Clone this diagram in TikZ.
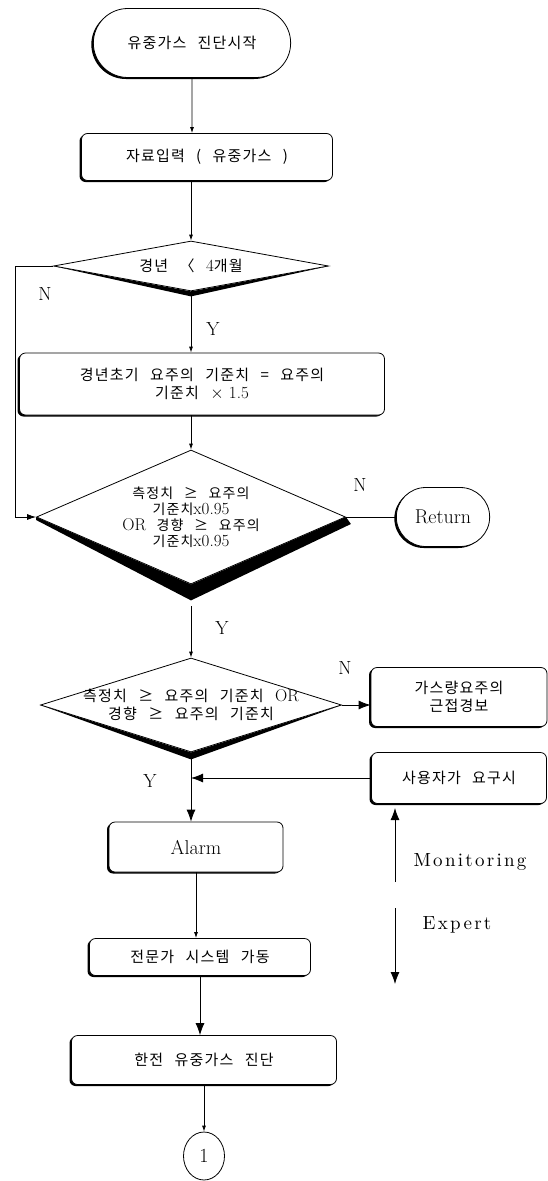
\documentclass[tikz,border=0pt]{standalone}
\usepackage{fontspec}
\newfontfamily\kr{Noto Sans CJK KR}[LetterSpace=8,WordSpace=2.5]
\newfontfamily\wide{lmroman10-regular}[Extension=.otf,LetterSpace=12]
\newcommand\lat[1]{{\rmfamily\fontsize{17}{16}\selectfont #1}}
\usepackage{tikz}
\usetikzlibrary{arrows.meta}
\usetikzlibrary{shapes.geometric}
\usetikzlibrary{shapes.misc}
\usetikzlibrary{shadows}
\usetikzlibrary{backgrounds}

\tikzset{
  kfont/.style={font=\kr\fontsize{15}{18}\selectfont},
  lfont/.style={font=\fontsize{20}{22}\selectfont},
  boxshadow/.style={drop shadow={shadow xshift=-2pt,shadow yshift=-1.5pt,opacity=1,fill=black}},
  procbox/.style={draw,fill=white,rounded corners=6pt,boxshadow},
  termbox/.style={draw,fill=white,rounded rectangle,boxshadow},
  decide/.style={draw,fill=white,diamond,inner sep=0pt},
  link/.style={-{Latex[length=6pt,width=4pt]}},
  biglink/.style={-{Latex[length=12pt,width=9pt]}},
  yn/.style={font=\fontsize{19}{22}\selectfont}
}

\begin{document}
\begin{tikzpicture}[x=1pt,y=-1pt,line width=0.8pt]
    \useasboundingbox (0,0) rectangle (548,1181);
    \node[termbox,kfont,minimum width=204pt,minimum height=69pt] (start) at (192,43) {유중가스 진단시작};
    \node[procbox,kfont,minimum width=251pt,minimum height=47pt] (input) at (207,157) {자료입력 ( 유중가스 )};
    \node[decide,minimum width=275pt,minimum height=50pt,label={[kfont]center:경년 〈 \lat{4}개월}] (age) at (191,266) {};
    \node[procbox,kfont,align=center,minimum width=365pt,minimum height=62pt] (boost) at (202,384) {경년초기 요주의 기준치 = 요주의\\기준치 \lat{$\times$ 1.5}};
    \node[decide,minimum width=309pt,minimum height=134pt,label={[align=center,font=\kr\fontsize{14}{16}\selectfont]center:측정치 ≥ 요주의\\기준치\lat{x0.95}\\\lat{OR} 경향 ≥ 요주의\\기준치\lat{x0.95}}] (meas) at (191,517) {};
    \node[termbox,lfont,minimum width=100pt,minimum height=59pt] (ret) at (443,517) {Return};
    \node[decide,minimum width=301pt,minimum height=94pt,label={[align=center,kfont]center:측정치 ≥ 요주의 기준치 \lat{OR}\\경향 ≥ 요주의 기준치}] (limit) at (191,705) {};
    \node[procbox,kfont,align=center,minimum width=176pt,minimum height=59pt] (warn) at (459,697) {가스량요주의\\근접경보};
    \node[procbox,kfont,minimum width=175pt,minimum height=51pt] (user) at (459,778) {사용자가 요구시};
    \node[procbox,lfont,minimum width=174pt,minimum height=50pt] (alarm) at (196,847) {Alarm};
    \node[procbox,kfont,minimum width=221pt,minimum height=37pt] (es) at (200,957) {전문가 시스템 가동};
    \node[procbox,kfont,minimum width=265pt,minimum height=49pt] (kepco) at (204,1060) {한전 유중가스 진단};
    \node[draw,ellipse,lfont,inner sep=0pt,minimum width=41pt,minimum height=48pt] (one) at (204,1156) {1};
    \begin{scope}[on background layer]
      \fill (age.west) -- ([yshift=-5pt]age.south) -- (age.east) -- (age.south) -- cycle;
      \fill ([yshift=-3pt]meas.west) -- ([yshift=-16pt]meas.south) -- ([xshift=5pt,yshift=-7pt]meas.east) -- (meas.east) -- (meas.south) -- (meas.west) -- cycle;
      \fill (limit.west) -- ([yshift=-7pt]limit.south) -- (limit.east) -- (limit.south) -- cycle;
    \end{scope}
    \draw[link] (start) -- (start |- input.north);
    \draw[link] (input.south -| age.north) -- (age.north);
    \draw[-{Latex[length=9pt,width=6pt]}] (age.west) -- ++(-38,0) |- (meas.west);
    \node[yn] (n1) at (45,294) {N};
    \draw[link] (age.south) -- (age.south |- boost.north);
    \node[yn] (y1) at (213,329) {Y};
    \draw[link] (boost.south -| meas.north) -- (meas.north);
    \draw (meas.east) -- (ret.west);
    \node[yn] (n2) at (360,485) {N};
    \draw[link] ([yshift=-22pt]meas.south) -- (limit.north);
    \node[yn] (y2) at (222,628) {Y};
    \draw[biglink] (limit.east) -- (limit.east -| warn.west);
    \node[yn] (n3) at (345,668) {N};
    \draw[biglink] ([yshift=-7pt]limit.south) -- (limit.south |- alarm.north);
    \draw[biglink] (user.west) -- (user.west -| limit.south);
    \node[yn] (y3) at (150,781) {Y};
    \draw[link] (alarm.south) -- (alarm.south |- es.north);
    \draw[biglink] (es.south) -- (es.south |- kepco.north);
    \draw[link] (kepco.south) -- (one.north);
    \coordinate (mon) at (395,882);
    \coordinate (montip) at (395,808);
    \draw[biglink] (mon) -- (montip);
    \node[font=\wide\fontsize{19}{22}\selectfont] (montxt) at (470,862) {Monitoring};
    \coordinate (exp) at (395,908);
    \coordinate (exptip) at (395,984);
    \draw[biglink] (exp) -- (exptip);
    \node[font=\wide\fontsize{19}{22}\selectfont] (exptxt) at (457,925) {Expert};
  \end{tikzpicture}
\end{document}
